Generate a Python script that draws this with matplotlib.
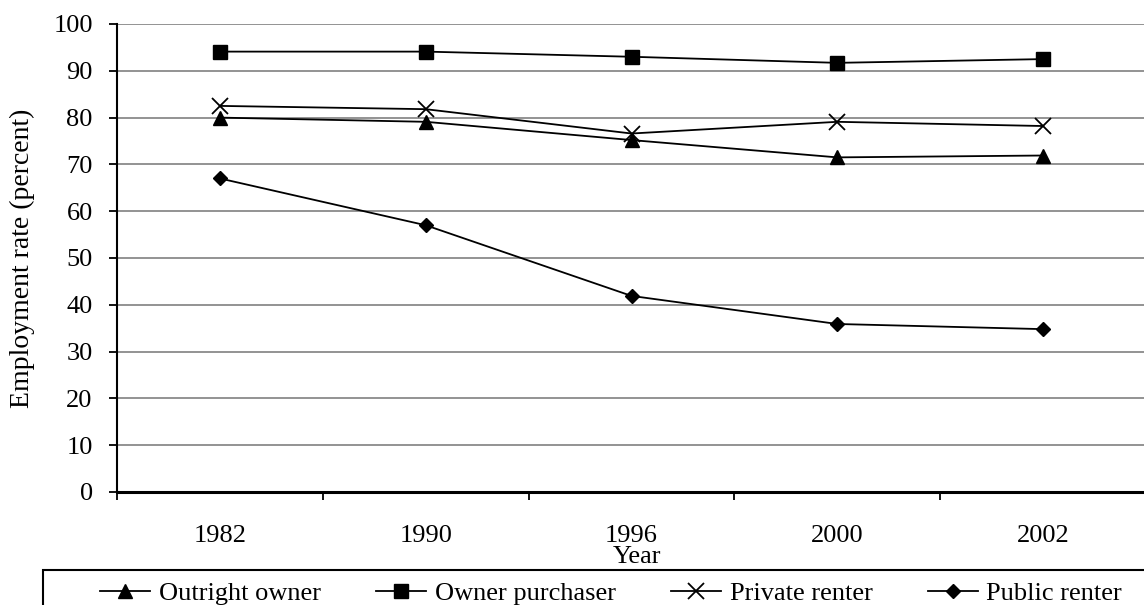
import matplotlib
matplotlib.use("Agg")
import matplotlib.pyplot as plt
from matplotlib.patches import Rectangle
from matplotlib.ticker import FixedLocator, NullFormatter

years = ["1982", "1990", "1996", "2000", "2002"]
outright_owner = [80.0, 79.1, 75.2, 71.5, 71.9]
owner_purchaser = [94.1, 94.1, 93.0, 91.7, 92.5]
private_renter = [82.5, 81.8, 76.6, 79.1, 78.2]
public_renter = [67.0, 57.0, 41.9, 35.9, 34.8]
y_ticks = [0, 10, 20, 30, 40, 50, 60, 70, 80, 90, 100]

plt.rcParams['font.family'] = ['Liberation Serif', 'DejaVu Serif']
FS = 19

W, H = 1144, 605
fig = plt.figure(figsize=(W / 100, H / 100), dpi=100)
ax = fig.add_axes([117 / W, 1 - 492 / H, 1029 / W, 468 / H])

x = list(range(len(years)))
series = [
    ("Outright owner", outright_owner, dict(marker="^", markersize=10.5)),
    ("Owner purchaser", owner_purchaser, dict(marker="s", markersize=10.5)),
    ("Private renter", private_renter, dict(marker="x", markersize=11, markeredgewidth=1.3)),
    ("Public renter", public_renter, dict(marker="D", markersize=7.5)),
]
handles = []
for name, vals, mk in series:
    h, = ax.plot(x, vals, color="black", lw=1.3, label=name,
                 markerfacecolor="black", markeredgecolor="black", **mk, zorder=3)
    handles.append(h)

ax.set_xlim(-0.5, len(years) - 0.5)
ax.set_ylim(0, 100)
ax.set_yticks(y_ticks)
ax.yaxis.grid(True, color="#808080", lw=1.2)
ax.set_axisbelow(True)

ax.set_xticks(x)
ax.set_xticklabels(years)
ax.xaxis.set_minor_locator(FixedLocator([i - 0.5 for i in range(len(years) + 1)]))
ax.xaxis.set_minor_formatter(NullFormatter())
ax.tick_params(axis="x", which="major", length=0, pad=24, labelsize=FS)
ax.tick_params(axis="x", which="minor", length=6, width=1.3, direction="out")
ax.tick_params(axis="y", length=5.5, width=1.3, direction="out", pad=12, labelsize=FS)

for s in ("top", "right"):
    ax.spines[s].set_visible(False)
for s in ("left", "bottom"):
    ax.spines[s].set_color("black")
ax.spines["left"].set_linewidth(1.5)
ax.spines["bottom"].set_linewidth(2.2)

ax.set_ylabel("Employment rate (percent)", fontsize=20, va="center")
ax.yaxis.set_label_coords((22 - 117) / 1029, 0.5)
ax.set_xlabel("Year", fontsize=FS, va="center")
ax.xaxis.set_label_coords((637 - 117) / 1029, (492 - 557) / 468)

fig.patches.append(Rectangle((43 / W, -0.05), 1.1, (605 - 570) / H + 0.05,
                             transform=fig.transFigure, fill=False,
                             edgecolor="black", lw=1.5, clip_on=False))
fig.legend(handles=handles, loc="center left", bbox_to_anchor=(100 / W, 1 - 593 / H),
           ncol=4, frameon=False, fontsize=FS, borderpad=0, borderaxespad=0,
           handlelength=1.9, handletextpad=0.32, columnspacing=2.1)

fig.savefig("out.png", dpi=100)
